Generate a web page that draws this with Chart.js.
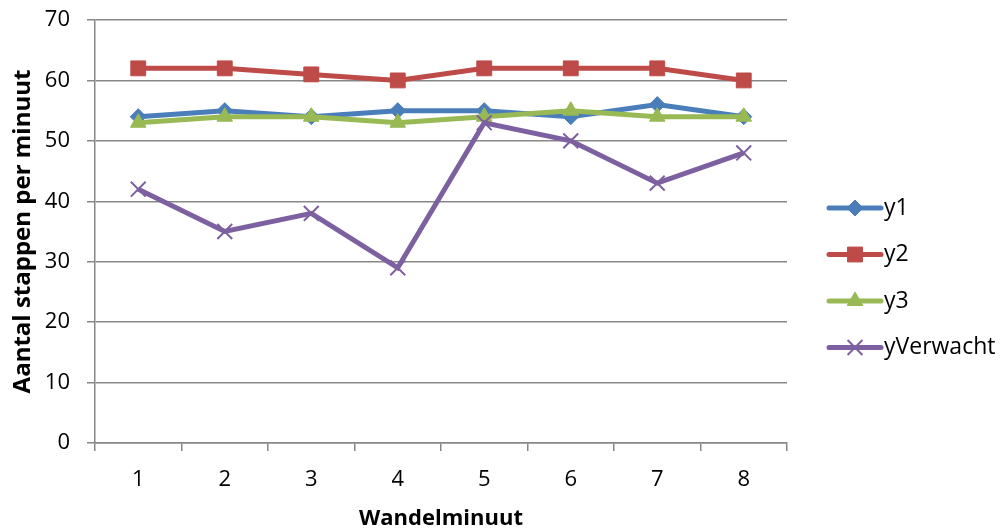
<!DOCTYPE html>
<html>
<head>
<meta charset="utf-8">
<script src="https://cdn.jsdelivr.net/npm/chart.js@4/dist/chart.umd.min.js"></script>
<style>
  html, body { margin: 0; padding: 0; background: #fff; }
  #wrap { width: 1003px; height: 528px; position: relative; }
</style>
</head>
<body>
<div id="wrap"><canvas id="c" width="1003" height="528"></canvas></div>
<script>
// Walking minute categories and steps per minute per series
const minutes = ['1', '2', '3', '4', '5', '6', '7', '8'];
const y1 = [54, 55, 54, 55, 55, 54, 56, 54];
const y2 = [62, 62, 61, 60, 62, 62, 62, 60];
const y3 = [53, 54, 54, 53, 54, 55, 54, 54];
const yVerwacht = [42, 35, 38, 29, 53, 50, 43, 48];
const yTicks = [0, 10, 20, 30, 40, 50, 60, 70];

const FONT = '"Open Sans", "Liberation Sans", sans-serif';
const GRID = '#878787';
const LINE_W = 5;

const series = [
  { label: 'y1', data: y1, color: '#4A7EBB', style: 'rectRot', radius: 8, markerBorder: 1, order: 4 },
  { label: 'y2', data: y2, color: '#BE4B48', style: 'rect', radius: 10.5, markerBorder: 1, order: 3 },
  { label: 'y3', data: y3, color: '#98B954', style: 'triangle', radius: 9, markerBorder: 1, order: 2 },
  { label: 'yVerwacht', data: yVerwacht, color: '#7D60A0', style: 'crossRot', radius: 10.5, markerBorder: 2, order: 1 }
];

// Legend drawn at the right: a short line segment with the marker in its middle
const sideLegend = {
  id: 'sideLegend',
  afterDraw(chart) {
    const ctx = chart.ctx;
    const x0 = 829, x1 = 881, tx = 884;
    const startY = 208, gap = 46.5;
    ctx.save();
    series.forEach((s, i) => {
      const y = startY + i * gap;
      ctx.strokeStyle = s.color;
      ctx.lineWidth = LINE_W;
      ctx.lineCap = 'round';
      ctx.beginPath();
      ctx.moveTo(x0, y);
      ctx.lineTo(x1, y);
      ctx.stroke();
      ctx.lineCap = 'butt';
      ctx.fillStyle = s.color;
      ctx.lineWidth = s.markerBorder;
      Chart.helpers.drawPoint(ctx, { pointStyle: s.style, radius: s.radius, borderWidth: s.markerBorder }, (x0 + x1) / 2, y);
      ctx.fillStyle = '#000';
      ctx.font = '23px ' + FONT;
      ctx.textAlign = 'left';
      ctx.textBaseline = 'middle';
      ctx.fillText(s.label, tx, y);
    });
    ctx.restore();
  }
};

new Chart(document.getElementById('c'), {
  type: 'line',
  data: {
    labels: minutes,
    datasets: series.map(s => ({
      label: s.label,
      data: s.data,
      order: s.order,
      borderColor: s.color,
      backgroundColor: s.color,
      borderWidth: LINE_W,
      pointStyle: s.style,
      pointRadius: s.radius,
      pointHoverRadius: s.radius,
      pointBorderWidth: s.markerBorder,
      pointBackgroundColor: s.color,
      pointBorderColor: s.color,
      tension: 0
    }))
  },
  options: {
    responsive: false,
    animation: false,
    devicePixelRatio: 1,
    layout: { padding: { top: 20, right: 216, bottom: 0, left: 0 } },
    plugins: {
      legend: { display: false },
      tooltip: { enabled: false }
    },
    scales: {
      x: {
        type: 'category',
        offset: true,
        afterFit(axis) { axis.height = 85; axis.paddingLeft = 0; axis.paddingRight = 0; },
        grid: {
          offset: true,
          drawOnChartArea: false,
          drawTicks: true,
          tickLength: 8,
          color: GRID,
          lineWidth: 1.5
        },
        border: { display: true, color: GRID, width: 1.5 },
        ticks: { color: '#000', font: { family: FONT, size: 22 }, padding: 16 },
        title: {
          display: true,
          text: 'Wandelminuut',
          color: '#000',
          font: { family: FONT, size: 22, weight: 'bold' },
          padding: { top: 0, bottom: -4 }
        }
      },
      y: {
        min: 0,
        max: 70,
        afterFit(axis) { axis.width = 95; axis.paddingTop = 0; axis.paddingBottom = 0; },
        afterBuildTicks(axis) { axis.ticks = yTicks.map(v => ({ value: v })); },
        grid: {
          color: GRID,
          lineWidth: 1.5,
          drawTicks: true,
          tickLength: 8
        },
        border: { display: true, color: GRID, width: 1.5 },
        ticks: { color: '#000', font: { family: FONT, size: 22 }, padding: 17 },
        title: {
          display: true,
          text: 'Aantal stappen per minuut',
          color: '#000',
          font: { family: FONT, size: 24, weight: 'bold' },
          padding: { top: 9, bottom: 0 }
        }
      }
    }
  },
  plugins: [sideLegend]
});
</script>
</body>
</html>
